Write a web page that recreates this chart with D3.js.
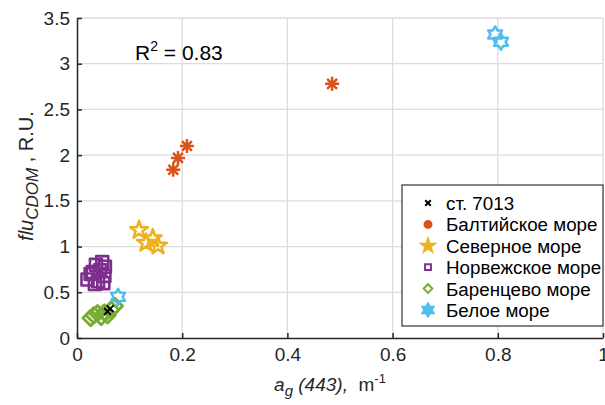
<!DOCTYPE html>
<html><head><meta charset="utf-8">
<script src="https://cdn.jsdelivr.net/npm/d3@7"></script>
<style>body{margin:0;background:#fff}svg{display:block;font-family:"Liberation Sans",Arial,sans-serif}</style>
</head><body><svg id="c" width="605" height="405"></svg>
<script>
const xTicks = [0, 0.2, 0.4, 0.6, 0.8, 1];
const yTicks = [0, 0.5, 1, 1.5, 2, 2.5, 3, 3.5];
const seriesNames = ["ст. 7013", "Балтийское море", "Северное море", "Норвежское море", "Баренцево море", "Белое море"];
const seriesColors = ["#000000", "#D95319", "#EDB120", "#7E2F8E", "#77AC30", "#4DBEEE"];
const stationX = [0.058, 0.063];
const stationY = [0.29, 0.32];
const balticX = [0.183, 0.192, 0.209, 0.485];
const balticY = [1.84, 1.97, 2.10, 2.78];
const northX = [0.118, 0.131, 0.144, 0.154];
const northY = [1.18, 1.04, 1.09, 1.01];
const norwX = [0.020, 0.030, 0.036, 0.040, 0.044, 0.048, 0.052, 0.053, 0.034, 0.050, 0.026];
const norwY = [0.64, 0.72, 0.80, 0.62, 0.74, 0.83, 0.68, 0.78, 0.59, 0.60, 0.70];
const barX = [0.026, 0.032, 0.039, 0.046, 0.052, 0.058, 0.065, 0.072];
const barY = [0.22, 0.25, 0.27, 0.23, 0.28, 0.25, 0.31, 0.35];
const whiteX = [0.078, 0.795, 0.806];
const whiteY = [0.45, 3.32, 3.24];

const svg = d3.select("#c");
const L = 77, R = 603, T = 18, B = 338;
const x = d3.scaleLinear().domain([0, 1]).range([L, R]);
const y = d3.scaleLinear().domain([0, 3.5]).range([B, T]);
const txt = "#262626";

// grid
svg.append("g").selectAll("line").data(xTicks.slice(1)).join("line")
  .attr("x1", d => x(d)).attr("x2", d => x(d)).attr("y1", T).attr("y2", B)
  .attr("stroke", "#dcdcdc").attr("stroke-width", 1.3);
svg.append("g").selectAll("line").data(yTicks.slice(1)).join("line")
  .attr("x1", L).attr("x2", R).attr("y1", d => y(d)).attr("y2", d => y(d))
  .attr("stroke", "#dcdcdc").attr("stroke-width", 1.3);

// axes
const xa = svg.append("g").attr("transform", `translate(0,${B})`)
  .call(d3.axisBottom(x).tickValues(xTicks).tickSize(-5).tickPadding(10).tickFormat(d3.format("")).tickSizeOuter(0));
const ya = svg.append("g").attr("transform", `translate(${L},0)`)
  .call(d3.axisLeft(y).tickValues(yTicks).tickSize(-5).tickPadding(7).tickFormat(d3.format("")).tickSizeOuter(0));
[xa, ya].forEach(a => {
  a.select(".domain").attr("stroke", txt).attr("stroke-width", 1.5);
  a.selectAll(".tick line").attr("stroke", txt).attr("stroke-width", 1.5);
  a.selectAll(".tick text").attr("fill", txt).style("font-size", "19px");
});

// marker shapes
function hexPath(r) {
  const pts = [];
  for (let i = 0; i < 12; i++) {
    const a = Math.PI / 6 * i - Math.PI / 2;
    const rr = i % 2 === 0 ? r : r * 0.58;
    pts.push([rr * Math.cos(a), rr * Math.sin(a)]);
  }
  return d3.line()(pts) + "Z";
}
function asteriskPath(r) {
  let p = "";
  for (let i = 0; i < 4; i++) {
    const a = Math.PI / 4 * i;
    p += `M${r*Math.cos(a)},${r*Math.sin(a)}L${-r*Math.cos(a)},${-r*Math.sin(a)}`;
  }
  return p;
}
const shapes = [
  s => d3.symbol(d3.symbolX, s * s * 0.5)(),
  s => asteriskPath(s / 2),
  s => d3.symbol(d3.symbolStar, s * s * 0.3)(),
  s => d3.symbol(d3.symbolSquare, s * s)(),
  s => d3.symbol(d3.symbolDiamond2, s * s * 0.6)(),
  s => hexPath(s / 2)
];

const series = [
  [stationX, stationY], [balticX, balticY], [northX, northY],
  [norwX, norwY], [barX, barY], [whiteX, whiteY]
];
const sizes = [8, 14, 18, 12, 16, 16];
const widths = [2, 2.5, 2.5, 2.6, 2.8, 2.5];
const drawOrder = [1, 2, 3, 4, 5, 0];
drawOrder.forEach(i => {
  const [xs, ys] = series[i];
  const pts = xs.map((v, k) => [v, ys[k]]);
  svg.append("g").selectAll("path").data(pts).join("path")
    .attr("d", shapes[i](sizes[i]))
    .attr("transform", d => `translate(${x(d[0])},${y(d[1])})`)
    .attr("fill", "none").attr("stroke", seriesColors[i])
    .attr("stroke-width", widths[i]).attr("stroke-linejoin", "round");
});

// R^2 label
const r2 = svg.append("text").attr("x", 135).attr("y", 60).attr("fill", "#000").style("font-size", "21px");
r2.append("tspan").text("R");
r2.append("tspan").attr("dy", -9).style("font-size", "14px").text("2");
r2.append("tspan").attr("dy", 9).text(" = 0.83");

// legend
const lg = svg.append("g");
lg.append("rect").attr("x", 402).attr("y", 185).attr("width", 201).attr("height", 141)
  .attr("fill", "#fff").attr("stroke", "#333").attr("stroke-width", 1.2);
const legShapes = [
  () => d3.symbol(d3.symbolX, 22)(),
  () => d3.symbol(d3.symbolCircle, 38)(),
  () => d3.symbol(d3.symbolStar, 55)(),
  () => d3.symbol(d3.symbolSquare, 34)(),
  () => d3.symbol(d3.symbolDiamond2, 48)(),
  () => hexPath(6.5)
];
seriesNames.forEach((n, i) => {
  const yy = 203 + i * 21.4;
  const filled = i === 1 || i === 2 || i === 5;
  lg.append("path").attr("d", legShapes[i]()).attr("transform", `translate(428,${yy})`)
    .attr("fill", filled ? seriesColors[i] : (i === 0 ? "none" : "#fff"))
    .attr("stroke", seriesColors[i]).attr("stroke-width", 2);
  lg.append("text").attr("x", 446).attr("y", yy + 7).attr("fill", "#000").style("font-size", "18.8px").text(n);
});

// axis labels
const xl = svg.append("text").attr("x", 330).attr("y", 391).attr("text-anchor", "middle").attr("fill", txt).style("font-size", "19px");
xl.append("tspan").style("font-style", "italic").text("a");
xl.append("tspan").attr("dy", 5).style("font-style", "italic").style("font-size", "15px").text("g");
xl.append("tspan").attr("dy", -5).style("font-style", "italic").text(" (443),");
xl.append("tspan").text("\u00a0\u00a0m");
xl.append("tspan").attr("dy", -8).style("font-size", "13px").text("-1");

const yl = svg.append("text").attr("transform", "translate(33,176) rotate(-90)").attr("text-anchor", "middle").attr("fill", txt).style("font-size", "20px");
yl.append("tspan").style("font-style", "italic").text("flu");
yl.append("tspan").attr("dy", 5).style("font-style", "italic").style("font-size", "17px").text("CDOM");
yl.append("tspan").attr("dy", -5).text("\u00a0, R.U.");
</script></body></html>
